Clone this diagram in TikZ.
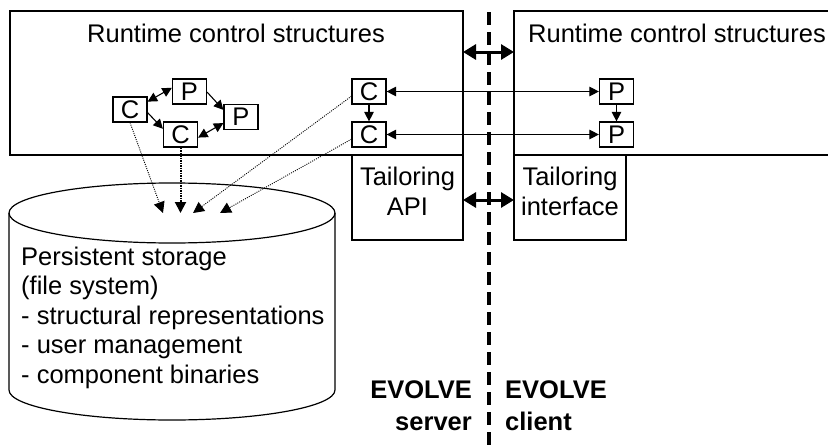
\documentclass[tikz,border=0pt]{standalone}
\usepackage{fontspec}
\setmainfont{Liberation Sans}
\usetikzlibrary{arrows.meta}
\begin{document}
\begin{tikzpicture}[x=1pt,y=-1pt,
  lbl/.style={font=\fontsize{25.5}{29.5}\selectfont, inner sep=0pt},
  blbl/.style={font=\fontsize{25.5}{29.5}\selectfont\bfseries, inner sep=0pt},
  frame/.style={draw, line width=1.2pt},
  cp/.style={draw, line width=1.2pt, minimum width=34pt, minimum height=25pt, inner sep=0pt, font=\fontsize{25.5}{29.5}\selectfont},
  small/.style={line width=1.1pt, >={Triangle[length=9.5pt,width=9.5pt]}},
  thick arrow/.style={line width=3pt, {Triangle[length=13pt,width=15pt]}-{Triangle[length=13pt,width=15pt]}},
  dotline/.style={line width=0.9pt, dash pattern=on 1pt off 1.2pt, -{Triangle[length=11pt,width=11pt]}},
  dotthick/.style={line width=2pt, dash pattern=on 1.5pt off 1pt, -{Triangle[length=11pt,width=11pt]}},
  divider/.style={line width=3.5pt, dash pattern=on 13pt off 7pt}
]
\useasboundingbox (0,0) rectangle (828,447);

% main frames
\draw[frame] (10,11) rectangle (463,155);
\draw[frame] (830,11) -- (514,11) -- (514,155) -- (830,155);
\draw[frame] (352,155) rectangle (463,240);
\draw[frame] (514,155) rectangle (626,240);

% cylinder
\draw[frame] (172,213) ellipse [x radius=163pt, y radius=30pt];
\draw[frame] (9,213) -- (9,390) arc[start angle=180, end angle=360, x radius=163pt, y radius=30pt] -- (335,213);

% labels
\node[lbl, anchor=base west] (rtl) at (87,42) {Runtime control structures};
\node[lbl, anchor=base west] (rtr) at (528,42) {Runtime control structures};
\node[lbl, anchor=base] (ta1) at (407.5,185) {Tailoring};
\node[lbl, anchor=base] (ta2) at (407.5,215) {API};
\node[lbl, anchor=base] (ti1) at (570,185) {Tailoring};
\node[lbl, anchor=base] (ti2) at (570,215) {interface};
\node[lbl, anchor=base west] (ps1) at (21,265) {Persistent storage};
\node[lbl, anchor=base west] (ps2) at (21,294.5) {(file system)};
\node[lbl, anchor=base west] (ps3) at (21,324) {- structural representations};
\node[lbl, anchor=base west] (ps4) at (21,353.5) {- user management};
\node[lbl, anchor=base west] (ps5) at (21,383) {- component binaries};
\node[blbl, anchor=base east] (es1) at (472,398) {EVOLVE};
\node[blbl, anchor=base east] (es2) at (472,430) {server};
\node[blbl, anchor=base west] (ec1) at (505,398) {EVOLVE};
\node[blbl, anchor=base west] (ec2) at (505,430) {client};

% divider
\coordinate (dtop) at (489,12);
\coordinate (dbot) at (489,450);
\draw[divider] (dtop) -- (dbot);

% C/P nodes
\node[cp] (C1) at (130,109.5) {C};
\node[cp] (P1) at (189.5,91.5) {P};
\node[cp] (P2) at (241,117) {P};
\node[cp] (C2) at (180.5,134.5) {C};
\node[cp] (C3) at (369,91.5) {C};
\node[cp] (C4) at (369,134.5) {C};
\node[cp] (P3) at (616.5,91.5) {P};
\node[cp] (P4) at (616.5,134.5) {P};

% small connectors
\draw[small, <->] (C1.24) -- (P1.168);
\draw[small, ->] (C1.-10) -- (C2.162);
\draw[small, ->] (P1.-2) -- (P2.158);
\draw[small, <->] (C2.-10) -- (P2.199);
\draw[small, ->] (C3.south) -- (C4.north);
\draw[small, ->] (P3.south) -- (P4.north);
\draw[small, <->] (C3.east) -- (P3.west);
\draw[small, <->] (C4.east) -- (P4.west);

% thick arrows across the divider
\coordinate (a1) at (463,52);
\coordinate (b1) at (514,52);
\coordinate (a2) at (463,200);
\coordinate (b2) at (514,200);
\draw[thick arrow] (a1) -- (b1);
\draw[thick arrow] (a2) -- (b2);

% dotted links into storage
\coordinate (s1) at (163,213);
\coordinate (s2) at (180.5,213);
\coordinate (s3) at (193,213);
\coordinate (s4) at (220,213);
\draw[dotline] (C1.south) -- (s1);
\draw[dotthick] (C2.south) -- (s2);
\draw[dotline] (C3.195) -- (s3);
\draw[dotline] (C4.195) -- (s4);
\end{tikzpicture}
\end{document}
